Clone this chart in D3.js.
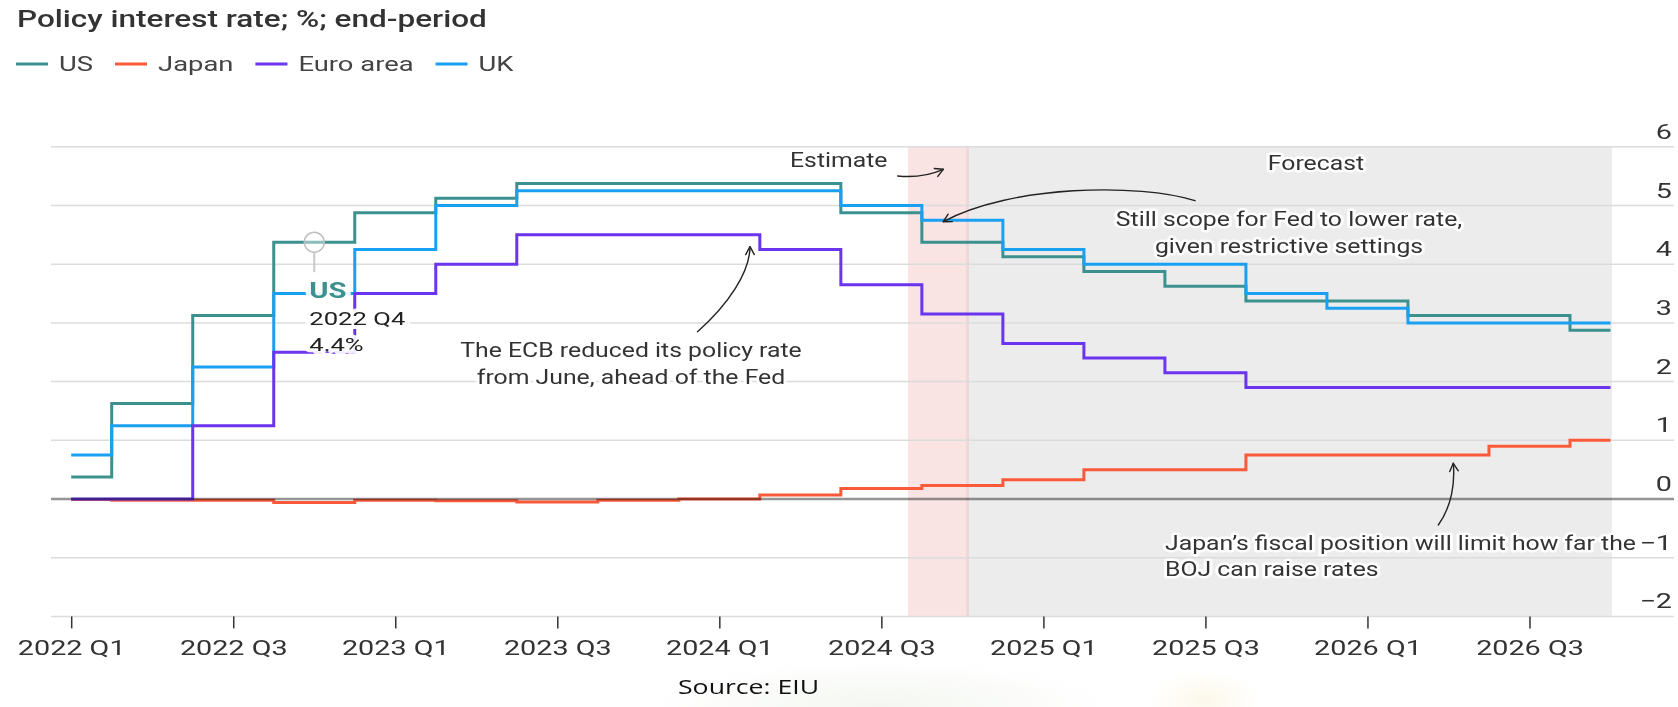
<!DOCTYPE html>
<html>
<head>
<meta charset="utf-8">
<script src="https://cdn.jsdelivr.net/npm/d3@7"></script>
<style>
  html, body { margin: 0; padding: 0; background: #fff; }
  svg { display: block; font-family: Roboto, "Liberation Sans", sans-serif; }
</style>
</head>
<body>
<svg id="chart" width="1678" height="707"></svg>
<script>
// Quarterly policy rates, end of period (%)
const quarters = [
  "2022 Q1", "2022 Q2", "2022 Q3", "2022 Q4",
  "2023 Q1", "2023 Q2", "2023 Q3", "2023 Q4",
  "2024 Q1", "2024 Q2", "2024 Q3", "2024 Q4",
  "2025 Q1", "2025 Q2", "2025 Q3", "2025 Q4",
  "2026 Q1", "2026 Q2", "2026 Q3", "2026 Q4"
];
const usRate    = [0.375, 1.625, 3.125, 4.375, 4.875, 5.125, 5.375, 5.375, 5.375, 5.375,
                   4.875, 4.375, 4.125, 3.875, 3.625, 3.375, 3.375, 3.125, 3.125, 2.875];
const japanRate = [-0.01, -0.02, -0.02, -0.06, -0.02, -0.03, -0.05, -0.02, 0.0, 0.07,
                   0.18, 0.23, 0.33, 0.5, 0.5, 0.75, 0.75, 0.75, 0.9, 1.0];
const euroRate  = [0, 0, 1.25, 2.5, 3.5, 4.0, 4.5, 4.5, 4.5, 4.25,
                   3.65, 3.15, 2.65, 2.4, 2.15, 1.9, 1.9, 1.9, 1.9, 1.9];
const ukRate    = [0.75, 1.25, 2.25, 3.5, 4.25, 5.0, 5.25, 5.25, 5.25, 5.25,
                   5.0, 4.75, 4.25, 4.0, 4.0, 3.5, 3.25, 3.0, 3.0, 3.0];

const seriesNames  = ["US", "Japan", "Euro area", "UK"];
const seriesColors = ["#3c918e", "#fb5a3a", "#6b34ee", "#19a0f2"];
const yTicks = [-2, -1, 0, 1, 2, 3, 4, 5, 6];
const xTickLabels = ["2022 Q1", "2022 Q3", "2023 Q1", "2023 Q3", "2024 Q1",
                     "2024 Q3", "2025 Q1", "2025 Q3", "2026 Q1", "2026 Q3"];
// Estimate and forecast periods, in quarters counted from 2022 Q1
const estimateSpan = [10.33, 11.08];
const forecastSpan = [11.08, 19];

const SX = 1.37;      // horizontal stretch of chart typography
const SX_NOTE = 1.24; // annotation typography

const svg = d3.select("#chart");
const x = d3.scaleLinear().domain([0, quarters.length - 1]).range([71.2, 1610.5]);
const y = d3.scaleLinear().domain([-2, 6]).range([616.4, 146.8]);
const gridX0 = 51, gridX1 = 1674;

// Faint background mark near the source line
const defs = svg.append("defs");
[["wmA", "#e6ede0"], ["wmB", "#f8efcf"]].forEach(([id, c]) => {
  const g = defs.append("radialGradient").attr("id", id);
  g.append("stop").attr("offset", "0%").attr("stop-color", c).attr("stop-opacity", 0.45);
  g.append("stop").attr("offset", "100%").attr("stop-color", c).attr("stop-opacity", 0);
});
svg.append("ellipse").attr("cx", 880).attr("cy", 705).attr("rx", 230).attr("ry", 45).attr("fill", "url(#wmA)");
svg.append("ellipse").attr("cx", 1205).attr("cy", 700).attr("rx", 55).attr("ry", 30).attr("fill", "url(#wmB)");

// Shaded periods
svg.append("rect")
  .attr("x", x(forecastSpan[0])).attr("y", y(6))
  .attr("width", x(forecastSpan[1]) - x(forecastSpan[0]) + 1.5)
  .attr("height", y(-2) - y(6))
  .attr("fill", "#ececec");
svg.append("rect")
  .attr("x", x(estimateSpan[0])).attr("y", y(6))
  .attr("width", x(estimateSpan[1]) - x(estimateSpan[0]))
  .attr("height", y(-2) - y(6))
  .attr("fill", "#f9e3e3");
svg.append("rect")
  .attr("x", x(estimateSpan[1]) - 2.5).attr("y", y(6))
  .attr("width", 2.5).attr("height", y(-2) - y(6))
  .attr("fill", "#ecd6d6");

// Horizontal gridlines
svg.append("g").selectAll("line")
  .data(yTicks.filter(t => t !== 0))
  .join("line")
  .attr("x1", gridX0).attr("x2", gridX1)
  .attr("y1", d => y(d)).attr("y2", d => y(d))
  .attr("stroke", "#dcdcdc").attr("stroke-width", 1.5);

// Right-hand value labels
svg.append("g").selectAll("text")
  .data(yTicks)
  .join("text")
  .attr("transform", d => `translate(1672,${y(d) - 8}) scale(${SX},1)`)
  .attr("text-anchor", "end")
  .attr("font-size", 21)
  .attr("fill", "#333")
  .text(d => d < 0 ? "\u2212" + Math.abs(d) : d);

// Step lines
const line = d3.line()
  .x((d, i) => x(i))
  .y(d => y(d))
  .curve(d3.curveStep);
const drawOrder = [
  [usRate, seriesColors[0]],
  [japanRate, seriesColors[1]],
  [ukRate, seriesColors[3]],
  [euroRate, seriesColors[2]]
];
svg.append("g").selectAll("path")
  .data(drawOrder)
  .join("path")
  .attr("d", d => line(d[0]))
  .attr("fill", "none")
  .attr("stroke", d => d[1])
  .attr("stroke-width", 3)
  .attr("stroke-linejoin", "miter");

// Zero line
svg.append("line")
  .attr("x1", gridX0).attr("x2", gridX1)
  .attr("y1", y(0)).attr("y2", y(0))
  .attr("stroke", "#959595").attr("stroke-width", 2.5)
  .style("mix-blend-mode", "multiply");

// Bottom axis
const xAxis = d3.axisBottom(x)
  .tickValues(xTickLabels.map(l => quarters.indexOf(l)))
  .tickSize(12)
  .tickPadding(0)
  .tickFormat(i => quarters[i]);
const axisG = svg.append("g")
  .attr("transform", `translate(0,${y(-2)})`)
  .call(xAxis);
axisG.select(".domain").remove();
axisG.selectAll(".tick line").attr("stroke", "#333").attr("stroke-width", 1.5);
axisG.selectAll(".tick text")
  .attr("y", 38.6).attr("dy", null)
  .attr("transform", `scale(${SX},1)`)
  .attr("font-family", "Roboto, sans-serif")
  .attr("font-size", 21)
  .attr("fill", "#333");

// Title
svg.append("text")
  .attr("transform", `translate(17,27) scale(${SX},1)`)
  .attr("font-size", 23)
  .attr("font-weight", 500)
  .attr("fill", "#333")
  .text("Policy interest rate; %; end-period");

// Legend
let lx = 16;
seriesNames.forEach((name, i) => {
  svg.append("line")
    .attr("x1", lx).attr("x2", lx + 32)
    .attr("y1", 64).attr("y2", 64)
    .attr("stroke", seriesColors[i]).attr("stroke-width", 3);
  const t = svg.append("text")
    .attr("transform", `translate(${lx + 43},71) scale(${SX},1)`)
    .attr("font-size", 20)
    .attr("fill", "#444")
    .text(name);
  lx += 43 + t.node().getComputedTextLength() * SX + 22;
});

// Annotation arrows
function arrow(from, c1, c2, to) {
  const g = svg.append("g").attr("fill", "none").attr("stroke", "#222")
    .attr("stroke-width", 1.4).attr("stroke-linecap", "round");
  const p = d3.path();
  p.moveTo(...from);
  p.bezierCurveTo(...c1, ...c2, ...to);
  g.append("path").attr("d", p.toString());
  const a = Math.atan2(to[1] - c2[1], to[0] - c2[0]);
  const len = 9, spread = 0.5;
  const h = d3.path();
  h.moveTo(to[0] - len * Math.cos(a - spread), to[1] - len * Math.sin(a - spread));
  h.lineTo(...to);
  h.lineTo(to[0] - len * Math.cos(a + spread), to[1] - len * Math.sin(a + spread));
  g.append("path").attr("d", h.toString()).attr("stroke-linejoin", "round");
}
arrow([897.7, 176], [912, 177.5], [929, 175.5], [943.3, 169.3]);
arrow([1195, 200.7], [1140, 183], [1010, 185], [943.3, 221.7]);
arrow([697.5, 331.7], [728, 305], [750, 272], [750, 246.7]);
arrow([1438.3, 525], [1452, 506], [1455, 482], [1453.3, 463.3]);

// Annotation texts with white halo
function haloText(lines, tx, ty, anchor, opts = {}) {
  const lh = opts.lineHeight || 26.7;
  lines.forEach((s, k) => {
    svg.append("text")
      .attr("transform", `translate(${tx},${ty + k * lh}) scale(${opts.sx || SX_NOTE},1)`)
      .attr("text-anchor", anchor)
      .attr("font-size", opts.size || 20)
      .attr("font-weight", opts.weight || 400)
      .attr("fill", opts.fill || "#333")
      .attr("stroke", "#fff")
      .attr("stroke-width", opts.halo || 5)
      .attr("stroke-opacity", 0.9)
      .attr("stroke-linejoin", "round")
      .attr("paint-order", "stroke")
      .text(s);
  });
}
haloText(["Estimate"], 790, 166.7, "start");
haloText(["Forecast"], 1316, 170, "middle");
haloText(["Still scope for Fed to lower rate,", "given restrictive settings"], 1289, 226, "middle");
haloText(["The ECB reduced its policy rate", "from June, ahead of the Fed"], 631, 357.3, "middle");
haloText(["Japan\u2019s fiscal position will limit how far the", "BOJ can raise rates"], 1165, 549.5, "start");

// Callout on the US series at 2022 Q4
const calloutIdx = quarters.indexOf("2022 Q4");
const cx = x(calloutIdx), cy = y(usRate[calloutIdx]);
svg.append("line")
  .attr("x1", cx).attr("x2", cx)
  .attr("y1", cy + 10).attr("y2", cy + 30)
  .attr("stroke", "#c8c8c8").attr("stroke-width", 2);
svg.append("circle")
  .attr("cx", cx).attr("cy", cy).attr("r", 10)
  .attr("fill", "rgba(255,255,255,0.4)")
  .attr("stroke", "#c0c0c0").attr("stroke-width", 1.5);
haloText(["US"], cx - 5, cy + 55.5, "start",
  { size: 22, weight: 700, fill: seriesColors[0], sx: 1.33, halo: 8 });
haloText([quarters[calloutIdx], d3.format(".1f")(usRate[calloutIdx]) + "%"], cx - 5, cy + 82.5, "start",
  { size: 19, fill: "#222", sx: 1.35, halo: 8, lineHeight: 26.8 });

// Source line
svg.append("text")
  .attr("transform", "translate(678,694) scale(1.3,1)")
  .attr("font-family", "'Open Sans', sans-serif")
  .attr("font-size", 20.5)
  .attr("fill", "#111")
  .text("Source: EIU");
</script>
</body>
</html>
